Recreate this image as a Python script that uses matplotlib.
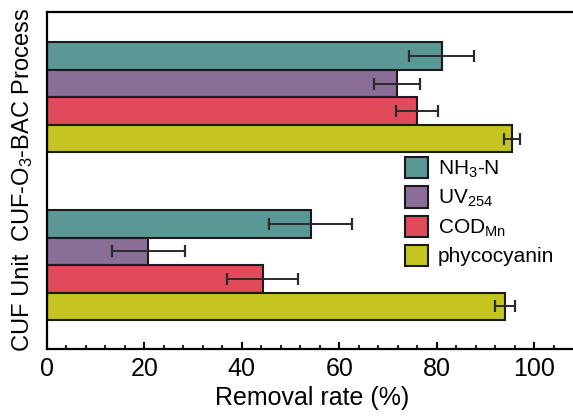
import numpy as np
import matplotlib
matplotlib.use("Agg")
import matplotlib.pyplot as plt

plt.rcParams['font.family'] = ['Liberation Sans', 'DejaVu Sans']
plt.rcParams['mathtext.fontset'] = 'custom'
plt.rcParams['mathtext.rm'] = 'Liberation Sans'
plt.rcParams['mathtext.it'] = 'Liberation Sans:italic'

# Data (removal rate %)
groups = ["CUF Unit", "CUF-O$_3$-BAC Process"]
series = ["NH$_3$-N", "UV$_{254}$", r"COD$_{\mathrm{Mn}}$", "phycocyanin"]
colors = ["#5a9896", "#8a6e98", "#e04a5b", "#c6c41e"]
values = {
    "CUF Unit": [54.1, 20.8, 44.3, 94.0],
    "CUF-O$_3$-BAC Process": [81.0, 71.8, 75.9, 95.5],
}
errors = {
    "CUF Unit": [8.6, 7.5, 7.3, 2.0],
    "CUF-O$_3$-BAC Process": [6.7, 4.7, 4.3, 1.6],
}

group_pos = [0.0, 6.1]
offsets = [1.5, 0.5, -0.5, -1.5]

fig = plt.figure(figsize=(5.73, 4.17), dpi=100)
ax = fig.add_axes([47 / 573, 68 / 417, 530 / 573, 337 / 417])

for i, name in enumerate(series):
    ys = [g + offsets[i] for g in group_pos]
    vals = [values[g][i] for g in groups]
    errs = [errors[g][i] for g in groups]
    ax.barh(ys, vals, height=1.0, color=colors[i], edgecolor="#1a1a1a",
            linewidth=1.5, label=name, zorder=2)
    ax.errorbar(vals, ys, xerr=errs, fmt="none", ecolor="#2a2a2a",
                elinewidth=1.4, capsize=4, capthick=1.6, zorder=3)

ax.set_xlim(0, 108.8)
ax.set_ylim(-3.05, 9.2)
ax.set_xticks([0, 20, 40, 60, 80, 100])
ax.set_xticks(np.arange(0, 108, 4), minor=True)
ax.tick_params(axis="x", which="major", direction="in", length=5, width=1.5,
               labelsize=18, pad=6)
ax.tick_params(axis="x", which="minor", direction="in", length=3, width=1.2)
ax.set_yticks([])
for s in ax.spines.values():
    s.set_linewidth(1.6)
ax.spines["right"].set_visible(False)

ax.set_xlabel("Removal rate (%)", fontsize=18, labelpad=3)

# group labels, placed like the original (slightly below group centres)
label_y = [-1.34, 5.11]
for g, yy in zip(groups, label_y):
    ax.text(-24 / 530 * 108.8, yy, g, rotation=90, fontsize=17,
            ha="center", va="center", clip_on=False)

leg = fig.legend(loc="upper left", bbox_to_anchor=(405 / 573, 1 - 157 / 417),
                 frameon=False, fontsize=15, handlelength=1.1, handleheight=1.2,
                 labelspacing=0.3, handletextpad=0.48, borderpad=0,
                 borderaxespad=0)

fig.savefig("out.png", dpi=100)
